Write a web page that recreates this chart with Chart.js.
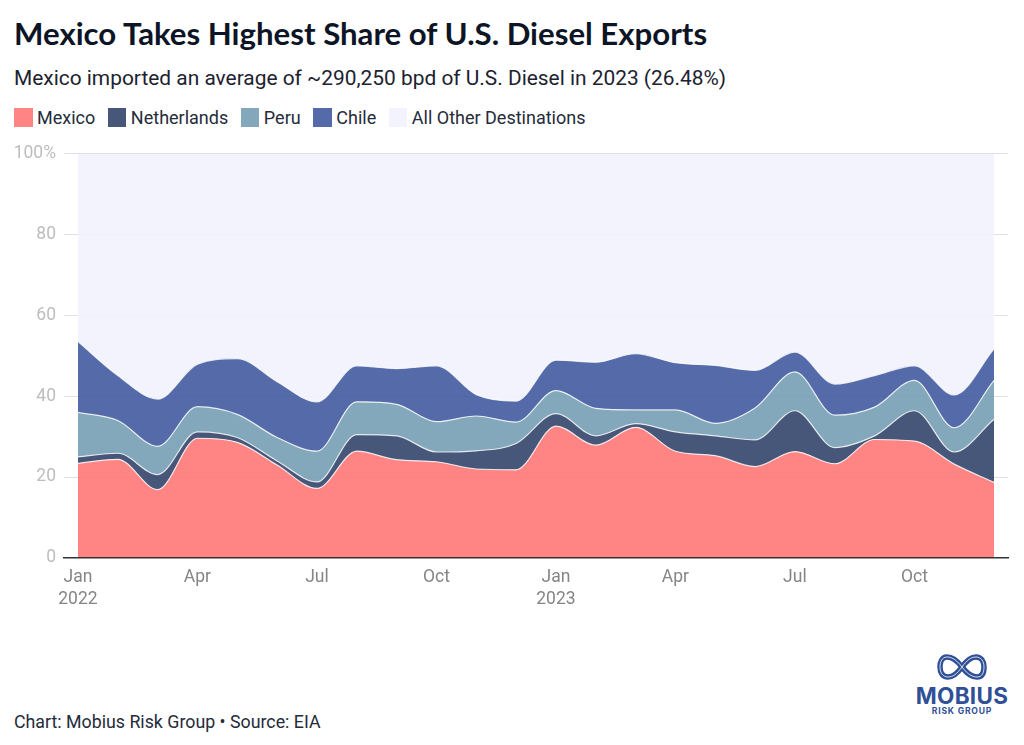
<!DOCTYPE html>
<html>
<head>
<meta charset="utf-8">
<script src="https://cdn.jsdelivr.net/npm/chart.js@4"></script>
<style>
  html, body { margin: 0; padding: 0; background: #fff; }
  body { width: 1024px; height: 745px; position: relative; overflow: hidden; font-family: Roboto, sans-serif; }
  #title { position: absolute; left: 14px; top: 14px; font: 700 31.2px Lato, sans-serif; color: #0c1425; white-space: nowrap; }
  #subtitle { position: absolute; left: 14px; top: 66px; font-size: 20.9px; color: #1c2230; white-space: nowrap; }
  #legend { position: absolute; left: 14px; top: 108px; display: flex; font-size: 18px; color: #252b3a; }
  #legend div { display: flex; align-items: center; margin-right: 12.6px; height: 19px; }
  #legend i { width: 18.5px; height: 19px; margin-right: 4.5px; display: block; }
  #wrap { position: absolute; left: 0; top: 135px; width: 1024px; height: 486px; }
  #footer { position: absolute; left: 14px; top: 711px; font-size: 17.8px; color: #252b3a; white-space: nowrap; }
  #logo { position: absolute; left: 900px; top: 650px; width: 124px; height: 70px; color: #2f4f96; text-align: center; }
  #logo svg { position: absolute; left: 37px; top: 4px; }
  #logo b { position: absolute; left: 0; right: 0; top: 32px; font: 700 22.5px Inter, sans-serif; letter-spacing: .3px; }
  #logo span { position: absolute; left: 0; right: 0; top: 56px; font: 700 8.6px Inter, sans-serif; letter-spacing: .8px; }
</style>
</head>
<body>
<div id="title">Mexico Takes Highest Share of U.S. Diesel Exports</div>
<div id="subtitle">Mexico imported an average of ~290,250 bpd of U.S. Diesel in 2023 (26.48%)</div>
<div id="legend"></div>
<div id="wrap"><canvas id="areaChart"></canvas></div>
<div id="logo">
  <svg width="50" height="26" viewBox="0 0 50 26" fill="none">
    <path stroke="#2f4f96" stroke-width="5.5" d="M25 13 C19 5 14 3 10 3 C5 3 3 8 3 13 C3 19 6 23 11 23 C16 23 20 20 25 13 C30 6 34 3 39 3 C44 3 47 7 47 13 C47 19 45 23 40 23 C36 23 31 21 25 13 Z"/>
    <path stroke="#ffffff" stroke-width="0.8" d="M25 13 C19 5 14 3 10 3 C5 3 3 8 3 13 C3 19 6 23 11 23 C16 23 20 20 25 13 C30 6 34 3 39 3 C44 3 47 7 47 13 C47 19 45 23 40 23 C36 23 31 21 25 13 Z"/>
  </svg>
  <b>MOBIUS</b>
  <span>RISK GROUP</span>
</div>
<div id="footer">Chart: Mobius Risk Group • Source: EIA</div>

<script>
// share of U.S. diesel exports per month, Jan 2022 - Dec 2023
const mexico = [23.4, 24.4, 16.9, 29.6, 28.6, 23.0, 17.2, 26.4, 24.3, 23.8, 22.0, 21.8, 32.6, 27.9, 32.3, 26.4, 25.3, 22.6, 26.3, 23.3, 29.3, 28.9, 23.2, 18.7];
const netherlands = [1.6, 1.5, 3.7, 1.6, 1.2, 1.0, 1.6, 4.1, 5.9, 2.4, 4.5, 6.5, 3.1, 2.3, 0.9, 4.8, 4.9, 6.6, 10.1, 4.0, 0.9, 7.5, 3.0, 15.6];
const peru = [11.0, 8.1, 7.0, 6.2, 5.7, 5.8, 7.6, 8.1, 7.8, 7.5, 8.6, 5.3, 5.7, 6.8, 3.4, 5.4, 3.1, 7.9, 9.6, 8.0, 7.1, 7.5, 6.0, 9.6];
const chile = [17.5, 11.1, 11.7, 10.5, 13.8, 13.8, 12.2, 8.9, 8.8, 13.8, 5.3, 5.2, 7.5, 11.4, 13.9, 11.7, 14.3, 9.3, 4.9, 7.7, 7.8, 3.6, 8.1, 7.8];
const others = [46.5, 54.9, 60.7, 52.1, 50.7, 56.4, 61.4, 52.5, 53.2, 52.5, 59.6, 61.2, 51.1, 51.6, 49.5, 51.7, 52.4, 53.6, 49.1, 57.0, 54.9, 52.5, 59.7, 48.3];

const seriesNames = ['Mexico', 'Netherlands', 'Peru', 'Chile', 'All Other Destinations'];
const seriesValues = [mexico, netherlands, peru, chile, others];
const seriesColors = ['rgba(255,119,119,0.9)', 'rgba(51,69,106,0.9)', 'rgba(118,158,180,0.9)', 'rgba(67,90,160,0.9)', 'rgba(241,242,252,0.9)'];

const tickMonths = [0, 3, 6, 9, 12, 15, 18, 21];
const tickLabels = [['Jan', '2022'], 'Apr', 'Jul', 'Oct', ['Jan', '2023'], 'Apr', 'Jul', 'Oct'];

// legend is plain html, chart.js legend can't do these tight gaps
const legendBox = document.getElementById('legend');
seriesNames.forEach((name, i) => {
    const item = document.createElement('div');
    item.innerHTML = `<i style="background:${seriesColors[i]}"></i>${name}`;
    legendBox.appendChild(item);
});

new Chart(document.getElementById('areaChart'), {
    type: 'line',
    data: {
        datasets: seriesNames.map((name, i) => ({
            label: name,
            data: seriesValues[i].map((v, m) => ({ x: m, y: v })),
            backgroundColor: seriesColors[i],
            borderColor: i === 4 ? 'rgba(0,0,0,0)' : 'rgba(255,255,255,0.8)',
            borderWidth: i === 4 ? 0 : 1.2,
            fill: i === 0 ? 'origin' : '-1',
            cubicInterpolationMode: 'monotone',
            pointRadius: 0
        }))
    },
    options: {
        responsive: true,
        maintainAspectRatio: false,
        animation: false,
        layout: { padding: { top: 3, right: 16, left: 0, bottom: 0 } },
        plugins: { legend: { display: false }, tooltip: { enabled: false } },
        scales: {
            x: {
                type: 'linear',
                min: -0.35,
                max: 23.35,
                grid: { display: false },
                // the baseline sits on top of the areas, gridlines stay under them
                border: { display: true, color: '#333333', width: 1.5, z: 2 },
                afterBuildTicks: scale => { scale.ticks = tickMonths.map(v => ({ value: v })); },
                afterFit: scale => { scale.height = 63; },
                ticks: {
                    autoSkip: false,
                    maxRotation: 0,
                    padding: 1,
                    color: '#858585',
                    font: { family: 'Roboto', size: 17.5, lineHeight: 1.25 },
                    callback: v => tickLabels[tickMonths.indexOf(v)]
                }
            },
            y: {
                stacked: true,
                min: 0,
                max: 100,
                border: { display: false },
                afterFit: scale => { scale.width = 64; },
                grid: {
                    drawTicks: false,
                    color: c => c.tick.value === 0 ? 'rgba(0,0,0,0)' : '#dfdfe6'
                },
                ticks: {
                    stepSize: 20,
                    padding: 8,
                    color: '#bdbdbd',
                    font: { family: 'Roboto', size: 17.5 },
                    callback: v => v === 100 ? '100%' : v
                }
            }
        }
    }
});
</script>
</body>
</html>
